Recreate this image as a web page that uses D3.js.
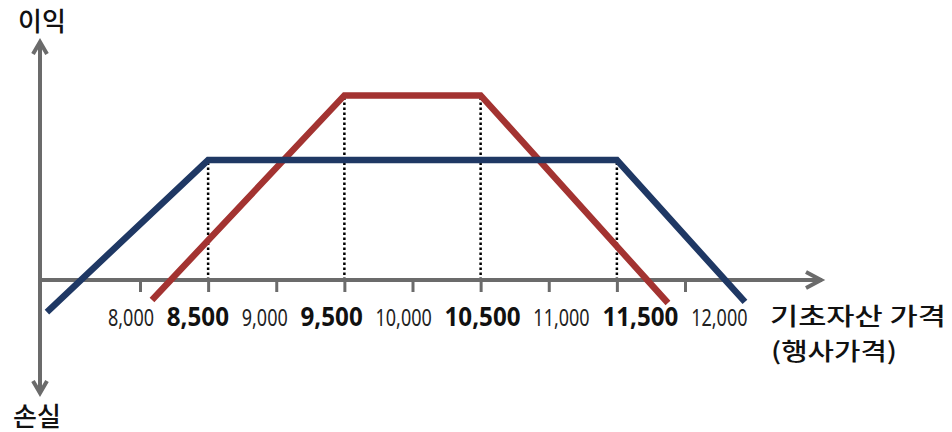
<!DOCTYPE html>
<html>
<head>
<meta charset="utf-8">
<script src="https://cdn.jsdelivr.net/npm/d3@7"></script>
<style>
  html, body { margin: 0; padding: 0; background: #fff; }
  svg { display: block; }
</style>
</head>
<body>
<div id="chart"></div>
<script>
// payoff lines: [underlying price, profit]
const bluePayoff = [[7317, -235], [8500, 880], [11500, 880], [12440, -161]];
const redPayoff = [[8088, -147], [9500, 1355], [10500, 1355], [11875, -169]];

// strikes get dotted guides + bold labels
const strikes = [8500, 9500, 10500, 11500];
const tickValues = [8000, 8500, 9000, 9500, 10000, 10500, 11000, 11500, 12000];

const yTop = "이익";
const yBottom = "손실";
const xTitle = ["기초자산 가격", "(행사가격)"];

const W = 952, H = 432;
const svg = d3.select("#chart").append("svg")
  .attr("width", W).attr("height", H);

// scales (same px per unit on both axes)
const x = d3.scaleLinear().domain([8000, 12000]).range([140, 685]);
const pxPerUnit = (x(1000) - x(0));
const y = d3.scaleLinear().domain([0, 1000]).range([280, 280 - pxPerUnit]);

const axisColor = "#6b6b6b";
const originX = 40, axisY = y(0);

// tick marks below the axis
const xAxis = svg.append("g")
  .attr("transform", `translate(0,${axisY})`)
  .call(d3.axisBottom(x).tickValues(tickValues).tickSize(12).tickFormat(""));
xAxis.select(".domain").remove();
xAxis.selectAll(".tick line")
  .attr("stroke", axisColor).attr("stroke-width", 3);

// dotted guides at strikes, up to the line vertex
const allPts = bluePayoff.concat(redPayoff);
svg.append("g").selectAll("line")
  .data(strikes)
  .join("line")
  .attr("x1", d => x(d)).attr("x2", d => x(d))
  .attr("y1", axisY)
  .attr("y2", d => y(allPts.find(p => p[0] === d)[1]))
  .attr("stroke", "#000")
  .attr("stroke-width", 2.5)
  .attr("stroke-dasharray", "2.5,2.5");

// axes with open arrow heads
const axes = svg.append("g")
  .attr("stroke", axisColor).attr("stroke-width", 4).attr("fill", "none");
axes.append("line").attr("x1", originX).attr("x2", 822).attr("y1", axisY).attr("y2", axisY);
axes.append("line").attr("x1", originX).attr("x2", originX).attr("y1", 42).attr("y2", 393);
axes.append("polyline").attr("points", `${originX - 7},54 ${originX},42 ${originX + 7},54`);
axes.append("polyline").attr("points", `${originX - 7},381 ${originX},393 ${originX + 7},381`);
axes.append("polyline").attr("points", `806,${axisY - 8} 821,${axisY} 806,${axisY + 8}`);

// payoff lines
const line = d3.line().x(d => x(d[0])).y(d => y(d[1]));
svg.append("path").datum(redPayoff)
  .attr("d", line).attr("fill", "none")
  .attr("stroke", "#a33331").attr("stroke-width", 6.5)
  .attr("stroke-linejoin", "miter");
svg.append("path").datum(bluePayoff)
  .attr("d", line).attr("fill", "none")
  .attr("stroke", "#1f3864").attr("stroke-width", 6.5)
  .attr("stroke-linejoin", "miter");

// tick labels, laid out as one line of text
const fmt = d3.format(",");
const labels = svg.append("g");
let cursor = x(8000) - 32;
tickValues.forEach(v => {
  const major = strikes.includes(v);
  const t = labels.append("text")
    .attr("x", cursor).attr("y", 326)
    .attr("font-family", "'Noto Sans', 'DejaVu Sans', sans-serif")
    .attr("font-size", major ? 26 : 24)
    .attr("font-weight", major ? 700 : 400)
    .attr("fill", major ? "#111" : "#222")
    .text(fmt(v));
  const natural = t.node().getComputedTextLength();
  const w = natural * (major ? 0.93 : 0.75);
  t.attr("textLength", w).attr("lengthAdjust", "spacingAndGlyphs");
  cursor += w + 12.75;
});

// titles
const kfont = "'Noto Sans CJK KR', 'Noto Sans', sans-serif";
svg.append("text").attr("x", 42).attr("y", 31)
  .attr("text-anchor", "middle").attr("font-family", kfont)
  .attr("font-size", 26).attr("font-weight", 500).attr("fill", "#111")
  .text(yTop);
svg.append("text").attr("x", 37).attr("y", 426)
  .attr("text-anchor", "middle").attr("font-family", kfont)
  .attr("font-size", 26).attr("font-weight", 500).attr("fill", "#111")
  .text(yBottom);
svg.append("text").attr("x", 770).attr("y", 325)
  .attr("font-family", kfont).attr("font-size", 24).attr("font-weight", 500).attr("fill", "#111")
  .attr("textLength", 176).attr("lengthAdjust", "spacingAndGlyphs")
  .text(xTitle[0]);
svg.append("text").attr("x", 771).attr("y", 360)
  .attr("font-family", kfont).attr("font-size", 24).attr("font-weight", 500).attr("fill", "#111")
  .attr("textLength", 126).attr("lengthAdjust", "spacingAndGlyphs")
  .text(xTitle[1]);
</script>
</body>
</html>
